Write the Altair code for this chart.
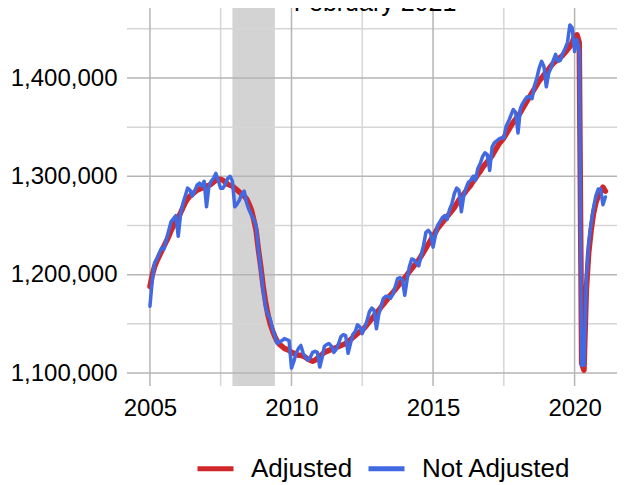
import altair as alt
import pandas as pd

# Monthly values, Jan 2005 - Feb 2021
adjusted = [
    1188, 1200, 1208, 1214, 1219, 1224, 1229, 1234, 1239, 1245, 1250, 1254,
    1258, 1263, 1268, 1273, 1277, 1280, 1282, 1284, 1286, 1287, 1288, 1289,
    1290, 1291, 1292, 1294, 1296, 1297, 1297, 1296, 1294, 1292, 1291, 1290,
    1288, 1286, 1284, 1282, 1280, 1277, 1272, 1266, 1256, 1245, 1225, 1208,
    1188, 1172, 1160, 1150, 1143, 1137, 1132, 1129, 1127, 1125, 1124, 1123,
    1121, 1120, 1119, 1118, 1118, 1117, 1116, 1114, 1113, 1112, 1113, 1115,
    1117, 1119, 1121, 1122, 1123, 1124, 1125, 1126, 1127, 1128, 1129, 1130,
    1132, 1134, 1136, 1138, 1140, 1142, 1144, 1146, 1149, 1152, 1155, 1158,
    1161, 1164, 1167, 1170, 1173, 1176, 1179, 1182, 1185, 1188, 1191, 1194,
    1197, 1200, 1203, 1206, 1209, 1212, 1215, 1219, 1223, 1227, 1231, 1235,
    1239, 1243, 1247, 1250, 1253, 1256, 1259, 1262, 1265, 1268, 1272, 1276,
    1279, 1282, 1285, 1288, 1291, 1295, 1298, 1302, 1305, 1309, 1312, 1315,
    1318, 1321, 1325, 1329, 1333, 1336, 1339, 1343, 1347, 1351, 1355, 1358,
    1361, 1365, 1369, 1373, 1377, 1381, 1385, 1389, 1393, 1397, 1400, 1403,
    1406, 1409, 1412, 1415, 1417, 1419, 1421, 1423, 1426, 1429, 1432, 1436,
    1443, 1444, 1436, 1110, 1103, 1185, 1222, 1245, 1262, 1273, 1280, 1284,
    1289, 1285,
]
not_adjusted = [
    1168, 1195, 1212, 1216, 1222, 1227, 1226, 1236, 1245, 1254, 1257, 1260,
    1239, 1262, 1272, 1280, 1288, 1286, 1280, 1285, 1291, 1293, 1290, 1295,
    1269, 1290, 1295, 1298, 1303, 1296, 1288, 1288, 1292, 1298, 1300, 1295,
    1269, 1272, 1276, 1282, 1285, 1273, 1266, 1261, 1256, 1250, 1225, 1205,
    1184, 1167, 1160, 1155, 1145, 1138, 1130, 1132, 1133, 1135, 1134, 1133,
    1105, 1112, 1120, 1125, 1128, 1120, 1116, 1113, 1116, 1121, 1122, 1121,
    1106, 1116, 1127, 1129, 1130, 1127, 1121, 1124, 1130, 1137, 1139, 1138,
    1120, 1130, 1139, 1142, 1149, 1147, 1140, 1146, 1153, 1162, 1166, 1164,
    1145, 1160, 1168, 1176, 1178, 1178, 1176, 1180, 1188, 1196, 1197, 1195,
    1179, 1195, 1208, 1216, 1215, 1212, 1209, 1220, 1230, 1243, 1245, 1242,
    1228, 1240, 1250, 1254, 1258, 1260, 1256, 1266, 1272, 1282, 1288, 1286,
    1264, 1280, 1288, 1294, 1296, 1300, 1296, 1308, 1313, 1320, 1324, 1322,
    1306, 1330, 1334, 1336, 1338, 1339, 1339, 1351, 1356, 1362, 1368, 1365,
    1344, 1369, 1374, 1378, 1381, 1381, 1379, 1392, 1400, 1410, 1417, 1412,
    1391, 1405, 1410, 1418, 1424, 1417, 1418, 1425, 1430, 1436, 1454, 1451,
    1427, 1439, 1428, 1108, 1108, 1195, 1232, 1252, 1268, 1280, 1287, 1287,
    1271, 1279,
]
series_names = ["Adjusted", "Not Adjusted"]
series_colors = ["#D0282A", "#4169E1"]

recession = {"start": "2007-12-01", "end": "2009-06-01"}
x_tick_years = [2005, 2010, 2015, 2020]
minor_x_dates = ["2007-07-02", "2012-07-02", "2017-07-02"]
y_ticks = [1100000, 1200000, 1300000, 1400000]
minor_y = [1150000, 1250000, 1350000, 1450000]
title_text = "February 2021"

dates = pd.date_range("2005-01-01", periods=len(adjusted), freq="MS")
df_adj = pd.DataFrame({"date": dates, "value": [v * 1000 for v in adjusted], "series": "Adjusted"})
df_not = pd.DataFrame({"date": dates, "value": [v * 1000 for v in not_adjusted], "series": "Not Adjusted"})

FONT = "Liberation Sans"
xscale = alt.Scale(domain=[alt.DateTime(year=2004, month=3, date=11),
                           alt.DateTime(year=2021, month=7, date=1)])
yscale = alt.Scale(domain=[1086780, 1471190], zero=False, nice=False)

x_axis = alt.Axis(values=[alt.DateTime(year=y, month=1, date=1) for y in x_tick_years],
                  format="%Y", grid=False, domain=False, ticks=False,
                  labelFontSize=24, labelFont=FONT, labelColor="#000",
                  labelPadding=10, labelFlush=False)
y_axis = alt.Axis(values=y_ticks, format=",.0f", grid=False, domain=False, ticks=False,
                  labelFontSize=24, labelFont=FONT, labelColor="#000", labelPadding=10)

shade = alt.Chart(pd.DataFrame([recession])).mark_rect(color="#D3D3D3").encode(
    x=alt.X("start:T", scale=xscale, axis=x_axis, title=None), x2="end:T")

vmin = alt.Chart(pd.DataFrame({"d": pd.to_datetime(minor_x_dates)})).mark_rule(
    color="#D6D6D6", strokeWidth=1.5).encode(x=alt.X("d:T", scale=xscale, axis=x_axis, title=None))
vmaj = alt.Chart(pd.DataFrame({"d": pd.to_datetime([f"{y}-01-01" for y in x_tick_years])})).mark_rule(
    color="#B5B5B5", strokeWidth=1.5).encode(x=alt.X("d:T", scale=xscale, axis=x_axis, title=None))
hmin = alt.Chart(pd.DataFrame({"v": minor_y})).mark_rule(
    color="#D6D6D6", strokeWidth=1.5).encode(
    y=alt.Y("v:Q", scale=yscale, axis=y_axis, title=None), x=alt.value(0), x2=alt.value(498))
hmaj = alt.Chart(pd.DataFrame({"v": y_ticks})).mark_rule(
    color="#B5B5B5", strokeWidth=1.5).encode(
    y=alt.Y("v:Q", scale=yscale, axis=y_axis, title=None), x=alt.value(0), x2=alt.value(498))

color_enc = alt.Color("series:N", scale=alt.Scale(domain=series_names, range=series_colors),
                      legend=alt.Legend(title=None, orient="none", direction="horizontal",
                                        legendX=68, legendY=440, symbolType="stroke",
                                        symbolSize=1296, symbolStrokeWidth=5,
                                        labelFontSize=26, labelFont=FONT, labelColor="#000",
                                        labelOffset=15, columnPadding=5, padding=0,
                                        gridAlign="each"))

def line_layer(data, width):
    return alt.Chart(data).mark_line(strokeWidth=width, strokeJoin="round", strokeCap="round").encode(
        x=alt.X("date:T", scale=xscale, axis=x_axis, title=None),
        y=alt.Y("value:Q", scale=yscale, axis=y_axis, title=None),
        color=color_enc,
        order=alt.Order("date:T"),
    )

line_adj = line_layer(df_adj, 5.5)
line_not = line_layer(df_not, 3.5)

title = alt.Chart(pd.DataFrame({"t": [title_text]})).mark_text(
    fontSize=25, font=FONT, color="#000", baseline="alphabetic", align="center").encode(
    text="t:N", x=alt.value(248), y=alt.value(3))

chart = alt.layer(shade, vmin, hmin, vmaj, hmaj, line_adj, line_not, title).properties(
    width=490, height=378,
    autosize=alt.AutoSizeParams(type="none"),
    padding={"left": 119, "top": 0, "right": 0, "bottom": 99},
).configure_view(stroke=None)

chart.save("out.html", embed_options={"renderer": "svg", "actions": False})
